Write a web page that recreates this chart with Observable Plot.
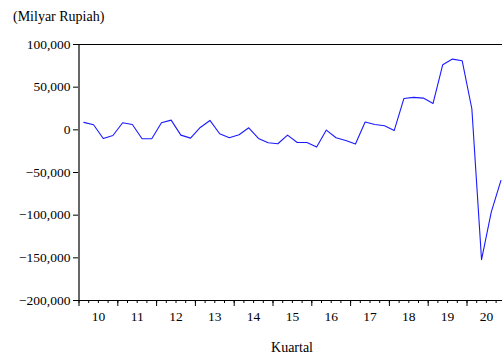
<!DOCTYPE html>
<html>
<head>
<meta charset="utf-8">
<script src="https://cdn.jsdelivr.net/npm/d3@7"></script>
<script src="https://cdn.jsdelivr.net/npm/@observablehq/plot@0.6"></script>
<style>
  html, body { margin: 0; padding: 0; background: #fff; }
  #wrap { position: relative; width: 502px; height: 355px; overflow: hidden; }
  #title { position: absolute; left: 13px; top: 9px; font-family: "Liberation Serif", serif; font-size: 14px; color: #000; }
  #chart { position: absolute; left: 0; top: 0; }
  #chart svg text { font-family: "Liberation Serif", serif; }
</style>
</head>
<body>
<div id="wrap">
  <div id="chart"></div>
  <div id="title">(Milyar Rupiah)</div>
</div>
<script>
const years = [2010, 2011, 2012, 2013, 2014, 2015, 2016, 2017, 2018, 2019, 2020];
const yearLabels = ["10", "11", "12", "13", "14", "15", "16", "17", "18", "19", "20"];
const quarters = [1, 2, 3, 4];
const values = [
  8700, 6000, -10100, -6600,
  8300, 6300, -10500, -10500,
  8300, 11400, -6200, -9700,
  2800, 11000, -4600, -9300,
  -5800, 2400, -10100, -15200,
  -16300, -6200, -14800, -14800,
  -20200, -300, -9300, -12400,
  -16700, 9100, 6300, 4800,
  -700, 36800, 38000, 37200,
  30900, 76300, 82900, 81000,
  24700, -152200, -96400, -59300
];
const yTicks = [-200000, -150000, -100000, -50000, 0, 50000, 100000];

const data = years.flatMap((y, i) => quarters.map((q, j) => ({
  t: y + (q - 0.5) / 4,
  v: values[i * 4 + j]
})));
const quarterTicks = years.flatMap(y => quarters.map(q => y + (q - 1) / 4));
const yearMids = years.map((y, i) => ({ x: y + 0.5, label: yearLabels[i] }));

const font = '"Liberation Serif", serif';
const chart = Plot.plot({
  width: 502,
  height: 355,
  marginLeft: 78,
  marginRight: 0,
  marginTop: 44,
  marginBottom: 55,
  style: { fontFamily: font, fontSize: "13.5px", color: "#000", background: "#fff", overflow: "hidden" },
  x: { domain: [2010, 2021], range: [78.5, 505.3] },
  y: { domain: [-200000, 100000], range: [300, 44] },
  marks: [
    Plot.ruleX([2010], { stroke: "#000", strokeWidth: 1.2 }),
    Plot.ruleY([-200000], { stroke: "#000", strokeWidth: 1.2 }),
    Plot.ruleY([100000], { stroke: "#000", strokeWidth: 1.2 }),
    Plot.axisY({ ticks: yTicks, tickFormat: d3.format(","), tickSize: 5, tickPadding: 3, label: null, fontSize: 13.5 }),
    Plot.axisX({ ticks: quarterTicks, tickSize: 3, tickFormat: () => "", label: null }),
    Plot.axisX({ ticks: years, tickSize: 6, tickFormat: () => "", label: null }),
    Plot.text(yearMids, { x: "x", y: -200000, text: "label", dy: 16, fontSize: 13.5, fill: "#000" }),
    Plot.text(["Kuartal"], { x: 2010 + 5.49, y: -200000, dy: 47, fontSize: 14, fill: "#000" }),
    Plot.line(data, { x: "t", y: "v", stroke: "#1a1aff", strokeWidth: 1.1 })
  ]
});
document.getElementById("chart").appendChild(chart);
</script>
</body>
</html>
